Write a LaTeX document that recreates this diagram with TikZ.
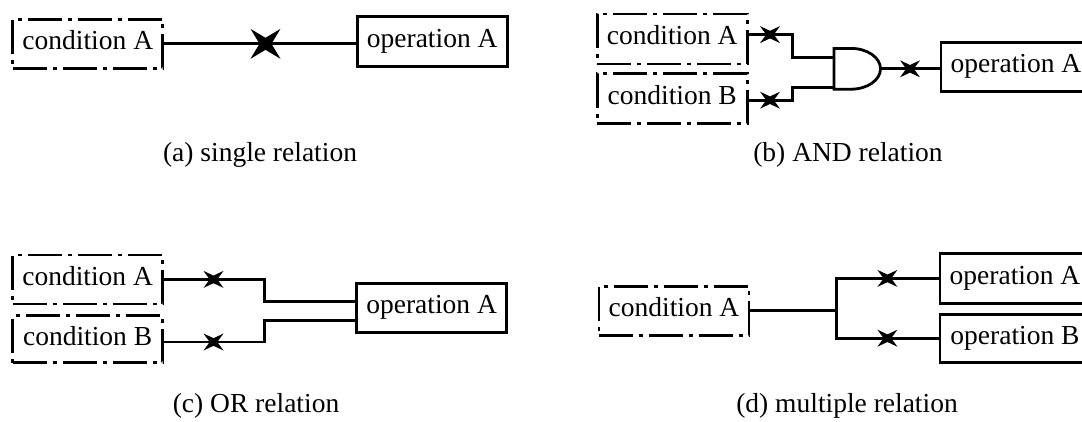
\documentclass[tikz,border=0pt]{standalone}
\usepackage{fontspec}
\setmainfont{Liberation Serif}
\begin{document}
\begin{tikzpicture}[x=1pt, y=-1pt,
  every node/.style={font=\fontsize{27.5}{30}\selectfont},
  boxbase/.style={draw, line width=2.7pt, inner sep=0pt, minimum width=150pt,
    minimum height=49pt, text height=19pt, text depth=7pt},
  cond/.style={boxbase, dash pattern=on 34pt off 6pt on 4pt off 6pt},
  oper/.style={boxbase},
  wire/.style={line width=2.8pt},
  caption/.style={anchor=base},
  % four-pointed star marks on the connectors
  bigx/.pic={\fill (-15,-15) -- (0,-6) -- (15,-15) -- (6,0) -- (15,15)
    -- (0,6) -- (-15,15) -- (-6,0) -- cycle;},
  smallx/.pic={\fill (-10,-8.5) -- (0,-3.8) -- (10,-8.5) -- (3.8,0) -- (10,8.5)
    -- (0,3.8) -- (-10,8.5) -- (-3.8,0) -- cycle;}
]
\useasboundingbox (0,0) rectangle (1082,421);
\clip (0,0) rectangle (1082,421);

% (a) single relation
\node[cond] (aC) at (87.8,43.8) {condition A};
\node[oper, minimum height=50pt] (aO) at (432.2,41.2) {operation A};
\draw[wire] (aC.east) -- (aC.east -| aO.west);
\pic at (265.5,43.8) {bigx};
\node[caption] (capA) at (260,161) {(a) single relation};

% (b) AND relation
\node[cond, minimum height=50pt] (bA) at (672.2,38.9) {condition A};
\node[cond, minimum height=50pt] (bB) at (672.2,98.5) {condition B};
\draw[wire, fill=white] (834,48.4) -- (851,48.4)
  arc[start angle=-90, end angle=90, x radius=29.5, y radius=20.4]
  -- (834,89.2) -- cycle;
\coordinate (gA) at (834,57.7);
\coordinate (gB) at (834,87.5);
\coordinate (gO) at (880.5,68.8);
\node[oper] (bO) at (1016,66.9) {operation A};
\draw[wire] ([yshift=4.3pt]bA.east) -- ++(44.2,0) |- (gA);
\draw[wire] ([yshift=-1.7pt]bB.east) -- ++(44.2,0) |- (gB);
\draw[wire] (gO) -- (gO -| bO.west);
\pic at (770,34.6) {smallx};
\pic at (770,100.2) {smallx};
\pic at (910,68.8) {smallx};
\node[caption] (capB) at (848,161) {(b) AND relation};

% (c) OR relation
\node[cond] (cA) at (87.6,279.4) {condition A};
\node[cond, minimum height=47pt] (cB) at (87.6,339) {condition B};
\node[oper] (cO) at (431.6,307.9) {operation A};
\draw[wire] (cA.east) -- ++(100.8,0) |- ([yshift=6.6pt]cO.west);
\draw[wire] ([yshift=-3pt]cB.east) -- ++(100.8,0) |- ([yshift=-12.7pt]cO.west);
\pic at (213.5,279.4) {smallx};
\pic at (213.5,342) {smallx};
\node[caption] (capC) at (256,412) {(c) OR relation};

% (d) multiple relation
\node[cond] (dC) at (674,310.7) {condition A};
\node[oper, minimum height=50pt] (dA) at (1015,278.4) {operation A};
\node[oper, minimum height=48pt] (dB) at (1015,338.2) {operation B};
\coordinate (dJ) at (836.6,310.7);
\draw[wire] (dC.east) -- (dJ);
\draw[wire] (dA.west) -| (dJ) |- (dB.west);
\pic at (887.4,278.4) {smallx};
\pic at (887.4,338.2) {smallx};
\node[caption] (capD) at (847,412) {(d) multiple relation};
\end{tikzpicture}
\end{document}
